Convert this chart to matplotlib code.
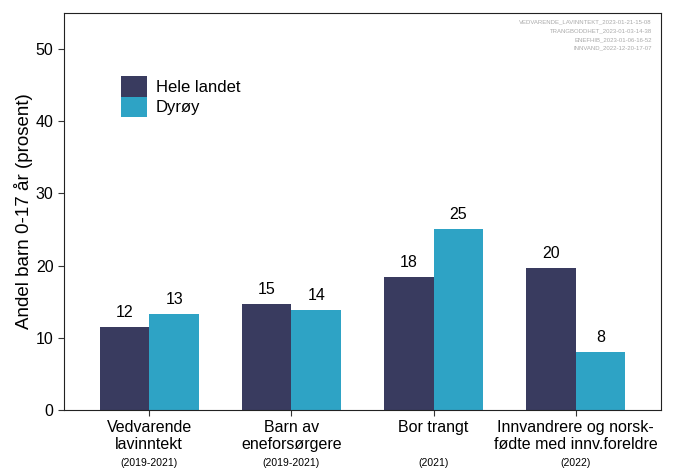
import numpy as np
import matplotlib.pyplot as plt

plt.rcParams['font.family'] = ['Liberation Sans', 'DejaVu Sans']

# data
categories = ['Vedvarende\nlavinntekt', 'Barn av\neneforsørgere', 'Bor trangt', 'Innvandrere og norsk-\nfødte med innv.foreldre']
periods = ['(2019-2021)', '(2019-2021)', '(2021)', '(2022)']
hele_landet = [11.5, 14.7, 18.4, 19.7]
dyroy = [13.3, 13.9, 25.1, 8.0]
notes = ['VEDVARENDE_LAVINNTEKT_2023-01-21-15-08',
         'TRANGBODDHET_2023-01-03-14-38',
         'ENEFHIB_2023-01-06-16-52',
         'INNVAND_2022-12-20-17-07']

col_hele = '#393b5f'
col_dyr = '#2ea3c5'

fig = plt.figure(figsize=(6.75, 4.68), dpi=100)
ax = fig.add_axes([64/675, 1 - 410/468, (661-64)/675, (410-13)/468])

x = np.arange(1, len(categories) + 1)
w = 0.35
b1 = ax.bar(x - w/2, hele_landet, w, color=col_hele, label='Hele landet')
b2 = ax.bar(x + w/2, dyroy, w, color=col_dyr, label='Dyrøy')

for bars, vals in [(b1, hele_landet), (b2, dyroy)]:
    for rect, v in zip(bars, vals):
        ax.annotate(f'{round(v):d}', (rect.get_x() + rect.get_width()/2, v),
                    xytext=(0, 5), textcoords='offset points',
                    ha='center', va='bottom', fontsize=11.5)

ax.set_xlim(0.4, 4.6)
ax.set_ylim(0, 55)
ax.set_yticks([0, 10, 20, 30, 40, 50])
ax.set_xticks(x)
ax.set_xticklabels(categories, fontsize=11.5, linespacing=1.2)
ax.tick_params(axis='both', labelsize=11.5, color='#333333', length=4)
ax.tick_params(axis='x', pad=3)
for s in ax.spines.values():
    s.set_color('#222222')
ax.set_ylabel('Andel barn 0-17 år (prosent)', fontsize=13.5, labelpad=2)

for xi, p in zip(x, periods):
    ax.text(xi, -0.12, p, transform=ax.get_xaxis_transform(), ha='center', va='top', fontsize=7.5)

ax.text(0.985, 0.983, '\n'.join(notes), transform=ax.transAxes, ha='right', va='top',
        fontsize=4.3, color='#aaaaaa', linespacing=1.9)

leg = ax.legend(loc='upper left', bbox_to_anchor=(0.07, 0.88), frameon=False,
                fontsize=12, handlelength=1.6, handleheight=1.55, handletextpad=0.5,
                labelspacing=0.0)

fig.savefig('out.png', dpi=100)
